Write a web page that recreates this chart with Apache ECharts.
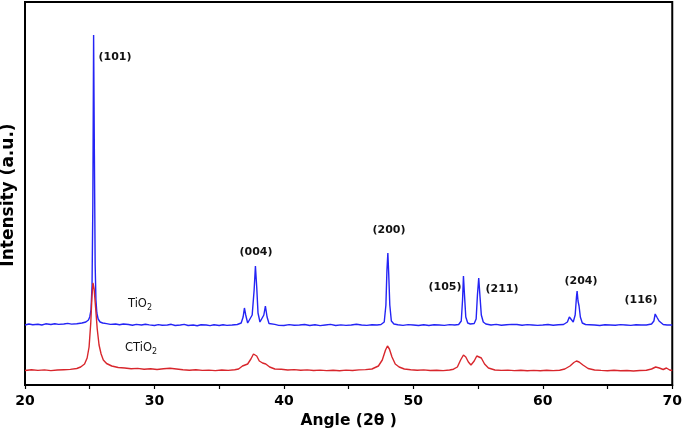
<!DOCTYPE html>
<html>
<head>
<meta charset="utf-8">
<title>XRD TiO2 / CTiO2</title>
<script src="https://cdn.jsdelivr.net/npm/echarts@6/dist/echarts.min.js"></script>
<style>
  html, body { margin: 0; padding: 0; background: #fff; }
  #chart { width: 685px; height: 435px; }
</style>
</head>
<body>
<div id="chart"></div>
<script>
// 2-theta positions (deg) and intensities (a.u.)
var tio2Angle = [20.0, 20.3, 20.6, 21.0, 21.3, 21.6, 22.0, 22.3, 22.6, 23.0, 23.3, 23.6, 24.0, 24.4, 24.7, 24.9, 25.0, 25.1, 25.18, 25.24, 25.3, 25.36, 25.42, 25.48, 25.55, 25.65, 25.8, 26.0, 26.3, 26.6, 27.0, 27.3, 27.6, 28.0, 28.3, 28.6, 29.0, 29.3, 29.6, 30.0, 30.3, 30.6, 31.0, 31.3, 31.6, 32.0, 32.3, 32.6, 33.0, 33.3, 33.6, 34.0, 34.3, 34.6, 35.0, 35.3, 35.6, 36.0, 36.4, 36.7, 36.85, 36.95, 37.05, 37.2, 37.35, 37.55, 37.7, 37.8, 37.9, 38.0, 38.15, 38.3, 38.45, 38.57, 38.7, 38.85, 39.0, 39.3, 39.6, 40.0, 40.4, 40.8, 41.2, 41.6, 42.0, 42.4, 42.8, 43.2, 43.6, 44.0, 44.4, 44.8, 45.2, 45.6, 46.0, 46.4, 46.8, 47.2, 47.5, 47.75, 47.88, 47.96, 48.03, 48.1, 48.18, 48.3, 48.5, 48.8, 49.2, 49.6, 50.0, 50.4, 50.8, 51.2, 51.6, 52.0, 52.4, 52.8, 53.2, 53.5, 53.7, 53.8, 53.87, 53.95, 54.05, 54.2, 54.4, 54.7, 54.85, 54.95, 55.05, 55.15, 55.25, 55.4, 55.6, 56.0, 56.4, 56.8, 57.2, 57.6, 58.0, 58.4, 58.8, 59.2, 59.6, 60.0, 60.4, 60.8, 61.2, 61.6, 61.9, 62.05, 62.15, 62.35, 62.5, 62.6, 62.65, 62.72, 62.8, 62.9, 63.05, 63.3, 63.6, 64.0, 64.4, 64.8, 65.2, 65.6, 66.0, 66.4, 66.8, 67.2, 67.6, 68.0, 68.4, 68.58, 68.68, 68.74, 68.85, 68.98, 69.1, 69.3, 69.6, 70.0];
var tio2Int = [60, 61, 60.3, 60.8, 60, 61.2, 60.5, 61.3, 60.6, 61, 61.6, 60.9, 61.3, 62, 63, 65, 68, 75, 100, 180, 350, 230, 120, 85, 72, 66, 63, 62, 61.4, 60.6, 61, 60.2, 61, 60.5, 59.7, 60.6, 60, 60.8, 60.1, 59.5, 60.4, 59.7, 60, 60.7, 59.5, 60, 60.6, 59.5, 60, 59.3, 60.3, 60, 59.4, 60.2, 59.5, 60.3, 59.6, 60, 60.5, 62, 68, 77, 70, 62, 62, 70, 95, 119, 98, 72, 63, 63, 70, 79, 68, 61.5, 60, 60.6, 59.6, 59.5, 60.4, 59.7, 60, 60.5, 59.5, 60.2, 59.4, 60, 60.6, 59.5, 60.1, 59.6, 60, 60.7, 60, 59.6, 60.3, 60, 60.5, 63, 80, 115, 132, 110, 80, 64, 61, 60.3, 59.6, 60.4, 60, 59.5, 60.3, 59.5, 60.2, 60, 59.6, 60.4, 60, 60.5, 64, 85, 109, 90, 68, 62, 61, 61.5, 66, 90, 107, 88, 70, 63, 61, 60, 60.6, 59.7, 60.2, 60.6, 60.5, 59.8, 60.4, 60, 59.6, 60, 60.5, 59.7, 60.2, 60.5, 63, 68, 66, 63, 70, 88, 94, 84, 79, 68, 62, 60.5, 60.3, 60, 59.5, 60.3, 60, 59.7, 60.4, 60, 59.6, 60.3, 60, 60, 61, 64, 71, 73, 67, 64, 62, 60.5, 60, 60];

var ctio2Angle = [20.0, 20.5, 21.0, 21.5, 22.0, 22.5, 23.0, 23.5, 24.0, 24.3, 24.6, 24.8, 24.95, 25.08, 25.17, 25.25, 25.34, 25.45, 25.58, 25.72, 25.88, 26.05, 26.3, 26.7, 27.2, 27.7, 28.2, 28.7, 29.2, 29.7, 30.2, 30.7, 31.2, 31.7, 32.2, 32.7, 33.2, 33.7, 34.2, 34.7, 35.2, 35.7, 36.2, 36.5, 36.8, 37.0, 37.2, 37.45, 37.65, 37.75, 37.9, 38.1, 38.35, 38.6, 38.9, 39.3, 39.8, 40.3, 40.8, 41.3, 41.8, 42.3, 42.8, 43.3, 43.8, 44.3, 44.8, 45.3, 45.8, 46.3, 46.8, 47.3, 47.6, 47.85, 48.0, 48.15, 48.35, 48.6, 48.9, 49.3, 49.8, 50.3, 50.8, 51.3, 51.8, 52.3, 52.8, 53.1, 53.4, 53.65, 53.87, 54.05, 54.25, 54.45, 54.7, 54.9, 55.05, 55.25, 55.5, 55.8, 56.3, 56.8, 57.3, 57.8, 58.3, 58.8, 59.3, 59.8, 60.3, 60.8, 61.3, 61.7, 62.1, 62.4, 62.6, 62.8, 63.1, 63.5, 64.0, 64.5, 65.0, 65.5, 66.0, 66.5, 67.0, 67.5, 68.0, 68.4, 68.72, 69.0, 69.3, 69.55, 69.8, 70.0];
var ctio2Int = [14.5, 15.2, 14.6, 15.1, 14.4, 15, 15.3, 15.6, 16.5, 18, 21, 27, 38, 62, 88, 102, 96, 78, 56, 40, 31, 25, 21.5, 19, 17.5, 17, 16.3, 16.6, 15.8, 16.2, 15.5, 16.2, 16.8, 16, 15.2, 14.8, 15.3, 14.6, 14.9, 14.4, 15, 14.6, 15.3, 16, 19, 20, 21, 26, 31, 32, 29, 24, 22, 21, 18, 16, 15.7, 15, 15.4, 14.7, 15.1, 14.5, 14.9, 14.4, 14.8, 14.3, 14.9, 14.5, 15.1, 15.4, 16, 19, 25, 35, 39, 36, 28, 21, 18, 16, 15.3, 14.7, 15.1, 14.5, 14.8, 14.4, 15, 15.8, 18, 25, 30, 28, 23, 20, 24, 29, 30, 27, 21, 17, 15, 14.6, 14.9, 14.4, 14.7, 14.2, 14.6, 14.3, 14.7, 14.4, 14.8, 16, 19, 22.5, 24, 23, 20, 16.5, 15, 14.6, 14.3, 14.7, 14.2, 14.5, 14, 14.5, 14.7, 16, 18, 17, 15.5, 17, 15, 14.5];

var xTicks = [20, 30, 40, 50, 60, 70];

function zip (xs, ys) {
  return xs.map(function (x, i) { return [x, ys[i]] })
}

var chart = echarts.init(document.getElementById('chart'))
var font = 'DejaVu Sans'

chart.setOption({
  animation: false,
  backgroundColor: '#fff',
  grid: {
    left: 25,
    right: 9,
    top: 2,
    bottom: 50,
    show: true,
    borderColor: '#000',
    borderWidth: 2
  },
  xAxis: {
    type: 'value',
    min: xTicks[0],
    max: xTicks[xTicks.length - 1],
    interval: 10,
    name: 'Angle (2θ )',
    nameLocation: 'middle',
    nameGap: 21,
    nameTextStyle: { fontFamily: font, fontWeight: 'bold', fontSize: 15.5, color: '#000' },
    axisLine: { onZero: false, lineStyle: { color: '#000', width: 2 } },
    axisTick: { show: true, inside: false, length: 4, lineStyle: { color: '#000', width: 1.2 } },
    minorTick: { show: true, splitNumber: 2, length: 4, lineStyle: { color: '#000', width: 1.2 } },
    axisLabel: { margin: 9, fontFamily: font, fontWeight: 'bold', fontSize: 14, color: '#000' },
    splitLine: { show: false }
  },
  yAxis: {
    type: 'value',
    min: 0,
    max: 383,
    axisLine: { show: true, lineStyle: { color: '#000', width: 2 } },
    axisTick: { show: false },
    axisLabel: { show: false },
    splitLine: { show: false }
  },
  series: [
    {
      name: 'TiO2',
      type: 'line',
      data: zip(tio2Angle, tio2Int),
      showSymbol: false,
      lineStyle: { color: '#2424f5', width: 1.4 }
    },
    {
      name: 'CTiO2',
      type: 'line',
      data: zip(ctio2Angle, ctio2Int),
      showSymbol: false,
      lineStyle: { color: '#d8262c', width: 1.4 }
    }
  ],
  graphic: [
    {
      type: 'text', x: 9, y: 195, rotation: Math.PI / 2,
      style: { text: 'Intensity (a.u.)', font: 'bold 17px ' + font, fill: '#000', align: 'center', verticalAlign: 'middle' }
    },
    { type: 'text', x: 115, y: 57, style: { text: '(101)', font: 'bold 11px ' + font, fill: '#111', align: 'center', verticalAlign: 'middle' } },
    { type: 'text', x: 256, y: 252, style: { text: '(004)', font: 'bold 11px ' + font, fill: '#111', align: 'center', verticalAlign: 'middle' } },
    { type: 'text', x: 389, y: 230, style: { text: '(200)', font: 'bold 11px ' + font, fill: '#111', align: 'center', verticalAlign: 'middle' } },
    { type: 'text', x: 445, y: 287, style: { text: '(105)', font: 'bold 11px ' + font, fill: '#111', align: 'center', verticalAlign: 'middle' } },
    { type: 'text', x: 502, y: 289, style: { text: '(211)', font: 'bold 11px ' + font, fill: '#111', align: 'center', verticalAlign: 'middle' } },
    { type: 'text', x: 581, y: 281, style: { text: '(204)', font: 'bold 11px ' + font, fill: '#111', align: 'center', verticalAlign: 'middle' } },
    { type: 'text', x: 641, y: 300, style: { text: '(116)', font: 'bold 11px ' + font, fill: '#111', align: 'center', verticalAlign: 'middle' } },
    {
      type: 'text', x: 140, y: 304,
      style: {
        text: '{a|TiO}{b|2}', align: 'center', verticalAlign: 'middle',
        rich: {
          a: { fontFamily: font, fontSize: 11.5, fill: '#111', lineHeight: 15 },
          b: { fontFamily: font, fontSize: 8, fill: '#111', verticalAlign: 'bottom', lineHeight: 9 }
        }
      }
    },
    {
      type: 'text', x: 141, y: 348,
      style: {
        text: '{a|CTiO}{b|2}', align: 'center', verticalAlign: 'middle',
        rich: {
          a: { fontFamily: font, fontSize: 11.5, fill: '#111', lineHeight: 15 },
          b: { fontFamily: font, fontSize: 8, fill: '#111', verticalAlign: 'bottom', lineHeight: 9 }
        }
      }
    }
  ]
})
</script>
</body>
</html>
